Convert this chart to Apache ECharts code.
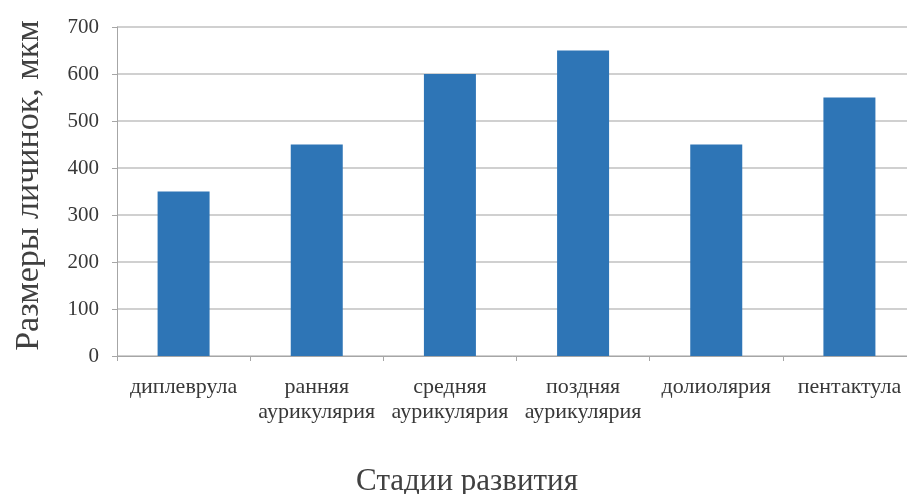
<!DOCTYPE html>
<html>
<head>
<meta charset="utf-8">
<script src="https://cdn.jsdelivr.net/npm/echarts@6/dist/echarts.min.js"></script>
<style>
  html, body { margin: 0; padding: 0; background: #ffffff; }
  #chart { width: 907px; height: 494px; }
</style>
</head>
<body>
<div id="chart"></div>
<script>
// Larval development stages and their sizes
const stages = [
  'диплеврула',
  'ранняя\nаурикулярия',
  'средняя\nаурикулярия',
  'поздняя\nаурикулярия',
  'долиолярия',
  'пентактула'
];
const sizes = [350, 450, 600, 650, 450, 550];
const yTicks = [0, 100, 200, 300, 400, 500, 600, 700];

const serif = '"Liberation Serif", "DejaVu Serif", serif';

const chart = echarts.init(document.getElementById('chart'));
chart.setOption({
  backgroundColor: '#ffffff',
  animation: false,
  title: {
    text: 'Стадии развития',
    left: 467,
    top: 466,
    padding: 0,
    textAlign: 'center',
    textStyle: { fontFamily: serif, fontSize: 31, fontWeight: 'normal', color: '#404040' }
  },
  grid: { left: 117, right: -9, top: 27, bottom: 138, containLabel: false, outerBoundsMode: 'none' },
  xAxis: {
    type: 'category',
    data: stages,
    axisLine: { lineStyle: { color: '#a6a6a6', width: 1 } },
    axisTick: { show: true, alignWithLabel: false, length: 5, lineStyle: { color: '#a6a6a6' } },
    axisLabel: {
      interval: 0,
      margin: 19,
      fontFamily: serif,
      fontSize: 22,
      lineHeight: 25,
      color: '#383838'
    }
  },
  yAxis: {
    type: 'value',
    min: yTicks[0],
    max: yTicks[yTicks.length - 1],
    interval: 100,
    name: 'Размеры личинок, мкм',
    nameLocation: 'middle',
    nameGap: 71,
    nameRotate: 90,
    nameTextStyle: { fontFamily: serif, fontSize: 34, color: '#404040', padding: [0, 0, 0, 12] },
    axisLine: { show: true, lineStyle: { color: '#a6a6a6', width: 1 } },
    axisTick: { show: true, length: 5, lineStyle: { color: '#a6a6a6' } },
    axisLabel: { margin: 18, fontFamily: serif, fontSize: 21, color: '#383838' },
    splitLine: { show: true, lineStyle: { color: '#c0c0c0', width: 1.5 } }
  },
  series: [{
    type: 'bar',
    data: sizes,
    barWidth: 52,
    itemStyle: { color: '#2e75b6' }
  }]
});
</script>
</body>
</html>
